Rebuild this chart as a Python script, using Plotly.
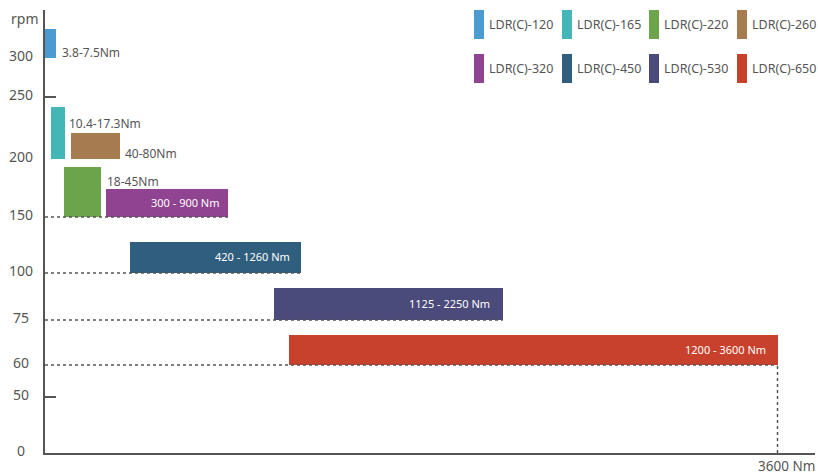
import numpy as np
import plotly.graph_objects as go

# ---------------- data ----------------
models = ["LDR(C)-120", "LDR(C)-165", "LDR(C)-220", "LDR(C)-260",
          "LDR(C)-320", "LDR(C)-450", "LDR(C)-530", "LDR(C)-650"]
torque_lo = [0, 30, 93, 128, 300, 420, 1125, 1200]        # Nm (as drawn)
torque_hi = [54, 98, 275, 369, 900, 1260, 2250, 3600]     # Nm (as drawn)
rpm_lo = [300, 200, 150, 200, 150, 100, 75, 60]
rpm_hi = [337, 242, 193, 221, 174, 128, 92, 70]
range_labels = ["3.8-7.5Nm", "10.4-17.3Nm", "18-45Nm", "40-80Nm",
                "300 - 900 Nm", "420 - 1260 Nm", "1125 - 2250 Nm", "1200 - 3600 Nm"]
rpm_tick_labels = ["0", "50", "60", "75", "100", "150", "200", "250", "300"]
rpm_tick_values = [0, 50, 60, 75, 100, 150, 200, 250, 300]
max_torque = 3600

# ---------------- styles ----------------
colors = ["#4b9ad0", "#45b6b8", "#6ba44a", "#a57b4f",
          "#8f4390", "#2f5e7e", "#4a4a7b", "#c8412c"]
FONT = "Noto Sans"
GREY = "#555555"

# non-linear rpm axis scale (rpm -> axis units)
scale_rpm = [0, 50, 60, 75, 100, 150, 200, 250, 300, 350]
scale_pos = [0, 56, 88, 133, 180, 236, 294, 356, 395, 434]


def ypos(r):
    return float(np.interp(r, scale_rpm, scale_pos))


y_lo = [ypos(r) for r in rpm_lo]
y_hi = [ypos(r) for r in rpm_hi]

fig = go.Figure()

# bars
fig.add_trace(go.Bar(
    orientation="h",
    y=[(a + b) / 2 for a, b in zip(y_lo, y_hi)],
    width=[b - a for a, b in zip(y_lo, y_hi)],
    base=torque_lo,
    x=[h - l for l, h in zip(torque_lo, torque_hi)],
    marker=dict(color=colors, line=dict(width=0)),
    showlegend=False, hoverinfo="skip",
))

# dotted guide lines for the big models
for i in range(4, 8):
    fig.add_trace(go.Scatter(
        x=[0, torque_hi[i]], y=[y_lo[i], y_lo[i]], mode="lines",
        line=dict(color=GREY, width=1.5, dash="dot"),
        showlegend=False, hoverinfo="skip",
    ))
fig.add_trace(go.Scatter(
    x=[max_torque, max_torque], y=[0, ypos(60)], mode="lines",
    line=dict(color=GREY, width=1.5, dash="dot"),
    showlegend=False, hoverinfo="skip",
))

annotations = []
# outside labels for small models
out_xshift = [4, 2, 4, 3]
out_yshift = [6, 36, 36, 6]
for i in range(4):
    annotations.append(dict(
        x=torque_hi[i], y=y_lo[i], xref="x", yref="y", text=range_labels[i],
        showarrow=False, xanchor="left", yanchor="middle",
        xshift=out_xshift[i], yshift=out_yshift[i],
        font=dict(family=FONT, size=12, color=GREY),
    ))
# inside labels
in_xshift = [-6, -9, -11, -10]
for k, i in enumerate(range(4, 8)):
    annotations.append(dict(
        x=torque_hi[i], y=(y_lo[i] + y_hi[i]) / 2, xref="x", yref="y",
        text=range_labels[i], showarrow=False, xanchor="right", yanchor="middle",
        xshift=in_xshift[k], yshift=1,
        font=dict(family=FONT, size=11, color="white"),
    ))

# y tick labels (centred under the "rpm" title)
for lab, v in zip(rpm_tick_labels, rpm_tick_values):
    annotations.append(dict(
        x=0, y=ypos(v), xref="x", yref="y", text=lab, showarrow=False,
        xanchor="center", yanchor="middle", xshift=-24, yshift=3,
        font=dict(family=FONT, size=14, color=GREY),
    ))
annotations.append(dict(
    x=0, y=1, xref="x", yref="paper", text="rpm", showarrow=False,
    xanchor="center", yanchor="middle", xshift=-21, yshift=-8,
    font=dict(family=FONT, size=14, color=GREY),
))
# x end label
annotations.append(dict(
    x=max_torque, y=0, xref="x", yref="paper", text=f"{max_torque} Nm",
    showarrow=False, xanchor="left", yanchor="middle", xshift=-22, yshift=-13,
    font=dict(family=FONT, size=13.5, color=GREY),
))

# custom legend (tall swatches), laid out in 2 rows x 4 columns
PL, PR, PT, PB = 45, 3, 10, 22
W, H = 818, 475
pw, ph = W - PL - PR, H - PT - PB
col_px = [474, 562, 649, 737]
row_px = [10, 54]
sw_w, sw_h = 10, 29
shapes = []
for i, (m, c) in enumerate(zip(models, colors)):
    cx = col_px[i % 4]
    ry = row_px[i // 4]
    shapes.append(dict(
        type="rect", xref="paper", yref="paper",
        x0=(cx - PL) / pw, x1=(cx + sw_w - PL) / pw,
        y0=(H - PB - ry - sw_h) / ph, y1=(H - PB - ry) / ph,
        fillcolor=c, line=dict(width=0), layer="above",
    ))
    annotations.append(dict(
        x=(cx + sw_w + 3 - PL) / pw, y=(H - PB - ry - sw_h / 2) / ph,
        xref="paper", yref="paper", text=m, showarrow=False,
        xanchor="left", yanchor="middle",
        font=dict(family=FONT, size=12.5, color=GREY),
    ))

xmax = (815 - PL) / ((777.5 - PL) / max_torque)

fig.update_layout(
    width=W, height=H,
    margin=dict(l=PL, r=PR, t=PT, b=PB, pad=0),
    plot_bgcolor="white", paper_bgcolor="white",
    barmode="overlay", bargap=0,
    annotations=annotations, shapes=shapes,
    xaxis=dict(range=[0, xmax], showgrid=False, zeroline=False,
               showline=True, linecolor=GREY, linewidth=2,
               showticklabels=False, ticks=""),
    yaxis=dict(range=[0, ph], showgrid=False, zeroline=False,
               showline=True, linecolor=GREY, linewidth=2,
               tickvals=[ypos(50), ypos(250)], ticks="inside", ticklen=11,
               tickwidth=2, tickcolor=GREY, showticklabels=False),
    showlegend=False,
)

fig.write_html(
    "out.html",
    config={"displayModeBar": False},
    post_script="document.body.style.margin='0';document.body.style.overflow='hidden';",
)
